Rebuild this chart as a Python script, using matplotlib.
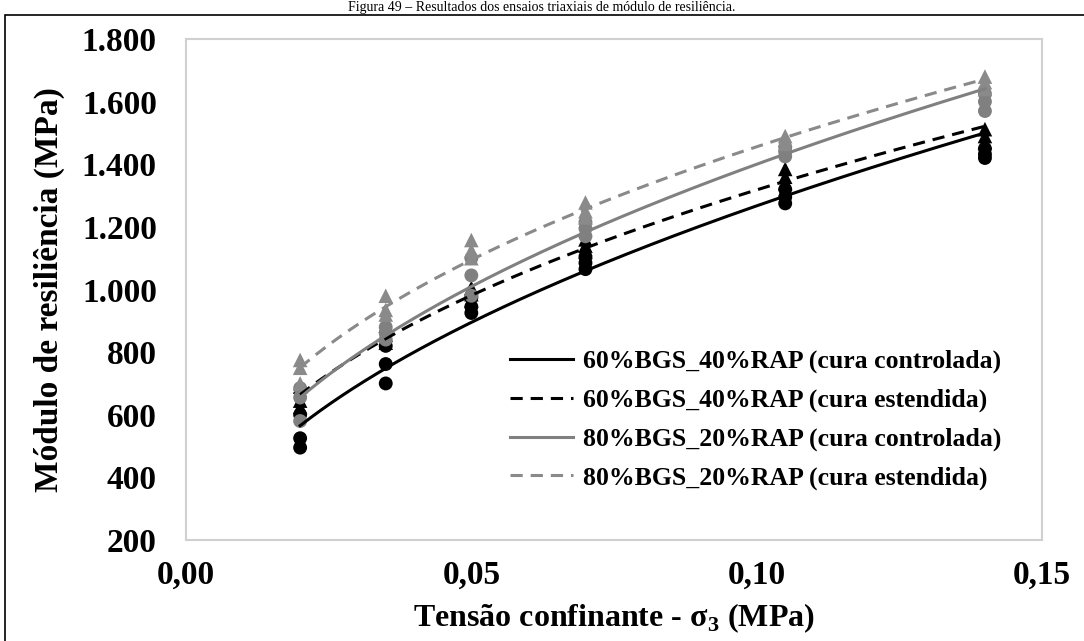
import numpy as np
import matplotlib.pyplot as plt
from matplotlib.patches import Rectangle

plt.rcParams['font.family'] = ['Liberation Serif', 'DejaVu Serif']
plt.rcParams['mathtext.fontset'] = 'custom'
plt.rcParams['mathtext.rm'] = 'Liberation Serif'
plt.rcParams['mathtext.bf'] = 'Liberation Serif:bold'

# Tensao confinante (MPa), 3 ensaios por nivel
sigma3 = [0.02] * 3 + [0.035] * 3 + [0.05] * 3 + [0.07] * 3 + [0.105] * 3 + [0.14] * 3

mr_60_40_controlada = [495, 525, 600, 700, 762, 820, 925, 945, 975,
                       1065, 1085, 1105, 1275, 1295, 1320, 1420, 1432, 1450]
mr_60_40_estendida = [625, 645, 690, 830, 855, 885, 965, 985, 1005,
                      1120, 1140, 1160, 1340, 1360, 1385, 1470, 1490, 1512]
mr_80_20_controlada = [580, 655, 685, 840, 860, 880, 980, 1045, 1100,
                       1170, 1195, 1215, 1425, 1440, 1455, 1570, 1600, 1625]
mr_80_20_estendida = [700, 750, 775, 920, 935, 980, 1100, 1125, 1158,
                      1230, 1250, 1278, 1465, 1478, 1490, 1640, 1662, 1680]

labels = ["60%BGS_40%RAP (cura controlada)",
          "60%BGS_40%RAP (cura estendida)",
          "80%BGS_20%RAP (cura controlada)",
          "80%BGS_20%RAP (cura estendida)"]
series = [mr_60_40_controlada, mr_60_40_estendida, mr_80_20_controlada, mr_80_20_estendida]
colors = ['black', 'black', '#808080', '#8a8a8a']
markers = ['o', '^', 'o', '^']
sizes = [100, 110, 100, 110]
styles = ['-', (0, (4, 2.6)), '-', (0, (4, 2.6))]

fig = plt.figure(figsize=(10.84, 6.41), dpi=100)
ax = fig.add_axes([186 / 1084, 1 - 540 / 641, (1042 - 186) / 1084, (540 - 39) / 641])

# borda externa da figura e legenda da figura (topo)
fig.patches.append(Rectangle((5 / 1084, -0.05), 1.2, 1 - 15 / 641 + 0.05, transform=fig.transFigure,
                             fill=False, edgecolor='black', linewidth=1.2))
fig.text(0.5, 1 - 1 / 641, "Figura 49 – Resultados dos ensaios triaxiais de módulo de resiliência.",
         ha='center', va='top', fontsize=10)

x = np.array(sigma3)
xx = np.linspace(0.02, 0.14, 200)
for y, c, m, s, ls, lab in zip(series, colors, markers, sizes, styles, labels):
    y = np.array(y, dtype=float)
    ax.scatter(x, y, s=s, marker=m, color=c, edgecolors='none', zorder=2)
    # linha de tendencia potencia (ajuste log-log)
    b, loga = np.polyfit(np.log(x), np.log(y), 1)
    ax.plot(xx, np.exp(loga) * xx ** b, color=c, linestyle=ls, linewidth=2.2, zorder=3, label=lab)

ax.set_xlim(0, 0.15)
ax.set_ylim(200, 1800)
ax.set_xticks([0, 0.05, 0.10, 0.15])
ax.set_xticklabels(['0,00', '0,05', '0,10', '0,15'])
ax.set_yticks(range(200, 1801, 200))
ax.set_yticklabels([f"{v:,}".replace(',', '.') for v in range(200, 1801, 200)])
ax.tick_params(length=0, labelsize=24)
ax.tick_params(axis='y', pad=21)
ax.tick_params(axis='x', pad=14)
for lbl in ax.get_xticklabels() + ax.get_yticklabels():
    lbl.set_fontweight('bold')
for sp in ax.spines.values():
    sp.set_color('#d0d0d0')
    sp.set_linewidth(1.5)

ax.set_xlabel(r"Tensão confinante - σ$_\mathbf{3}$ (MPa)", fontsize=23, fontweight='bold', labelpad=8)
ax.set_ylabel("Módulo de resiliência (MPa)", fontsize=24, fontweight='bold', labelpad=12)

leg = ax.legend(loc='lower right', bbox_to_anchor=(0.953, 0.10), frameon=False,
                prop={'size': 18.5, 'weight': 'bold'}, borderpad=0,
                handlelength=2.45, handletextpad=0.4, labelspacing=0.6, borderaxespad=0)

fig.savefig('out.png', dpi=100)
